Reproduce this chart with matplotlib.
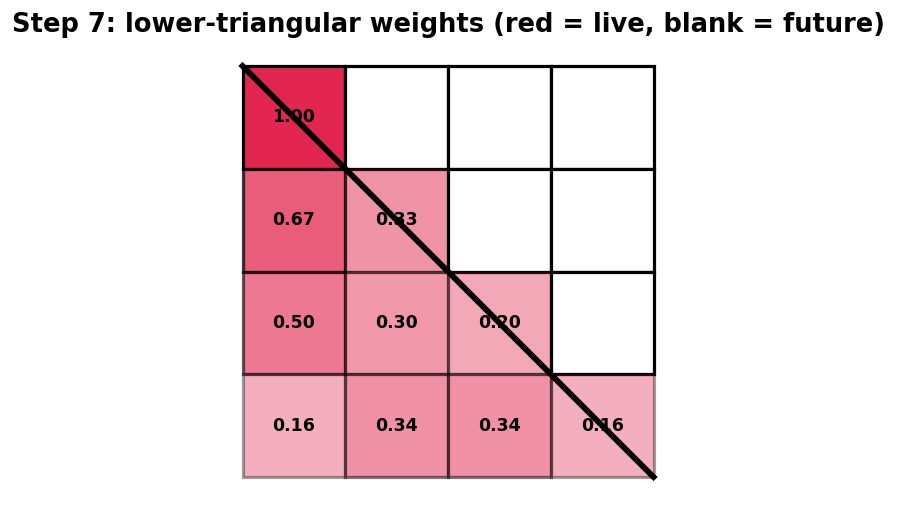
import matplotlib
matplotlib.use('Agg')
import matplotlib.pyplot as plt
from matplotlib.patches import Rectangle

# --- Data ---
N = 4
weights = [
    [1.00],
    [0.67, 0.33],
    [0.50, 0.30, 0.20],
    [0.16, 0.34, 0.34, 0.16],
]
TITLE = "Step 7: lower-triangular weights (red = live, blank = future)"
RED = (0.89, 0.15, 0.31)

# --- Plot ---
fig = plt.figure(figsize=(8.97, 5.12), dpi=100)
ax = fig.add_axes([242 / 897, 35 / 512, 412 / 897, 411 / 512])
ax.set_xlim(0, N)
ax.set_ylim(N, 0)
ax.set_aspect('equal')
ax.axis('off')

for i in range(N):
    for j in range(N):
        if j <= i:
            w = weights[i][j]
            ax.add_patch(Rectangle((j, i), 1, 1, facecolor=RED, edgecolor='black',
                                   linewidth=2.3, alpha=0.25 + 0.75 * w,
                                   clip_on=False))
            ax.text(j + 0.5, i + 0.5, f"{w:.2f}", ha='center', va='center',
                    fontsize=12.5, fontweight='bold', color='black', zorder=5)
        else:
            ax.add_patch(Rectangle((j, i), 1, 1, facecolor='white', edgecolor='black',
                                   linewidth=2.3, clip_on=False))

# causal diagonal
ax.plot([0, N], [0, N], color='black', linewidth=4.2, clip_on=False, zorder=6)

fig.suptitle(TITLE, fontsize=18.5, fontweight='bold', y=0.977)

fig.savefig('out.png', dpi=100)
